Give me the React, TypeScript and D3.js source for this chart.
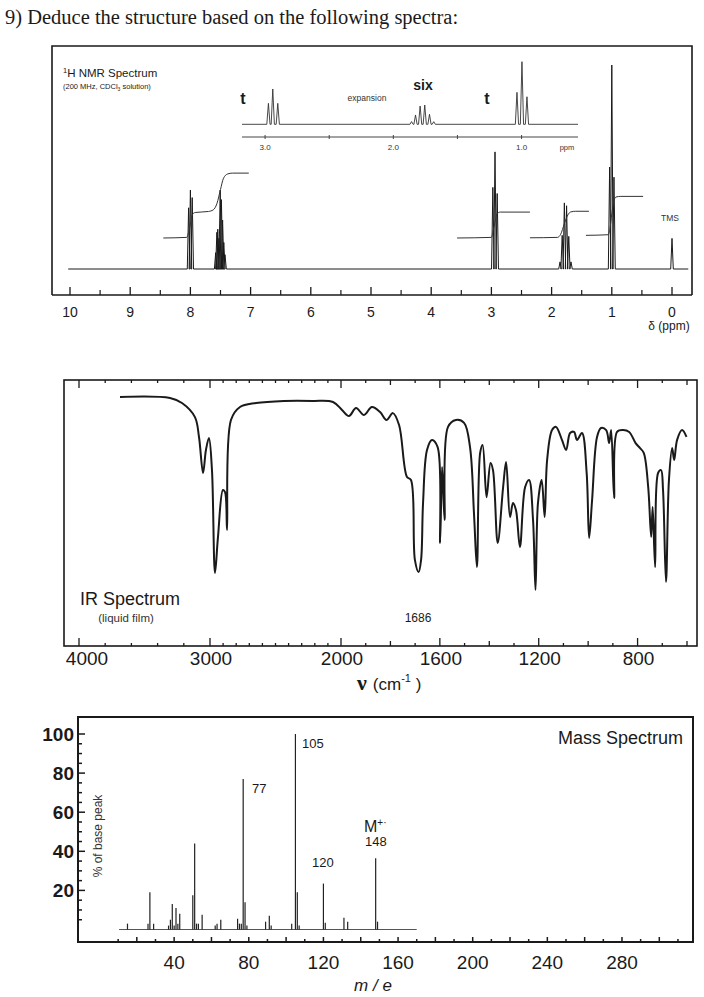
import React from "react";
import * as d3 from "d3";

// ---------------- NMR data ----------------
const nmrAxisTicks = [10, 9, 8, 7, 6, 5, 4, 3, 2, 1, 0];
const nmrPeakPpm = [8.03, 8.0, 7.97, 7.58, 7.56, 7.545, 7.525, 7.505, 7.485, 7.465, 7.445, 7.425, 2.976, 2.94, 2.904, 1.86, 1.824, 1.788, 1.751, 1.715, 1.678, 1.036, 1.0, 0.964, 0.0];
const nmrPeakHeight = [30, 38.7, 35, 8, 18, 19.5, 15, 38.7, 34, 24, 13, 7, 40, 57.4, 37, 3.5, 16.5, 32.4, 31, 16, 3.5, 50, 100, 45, 15];
const integralAromatic: [number, number][] = [[8.45, 15.2], [8.06, 15.5], [8.03, 18], [8.0, 22], [7.97, 26.5], [7.92, 27.7], [7.7, 28.2], [7.62, 29], [7.56, 32], [7.5, 39], [7.45, 44.5], [7.38, 46.6], [7.3, 47], [7.03, 47]];
const integralCH2CO: [number, number][] = [[3.57, 15.2], [3.0, 15.5], [2.97, 19], [2.94, 23], [2.91, 27], [2.85, 27.9], [2.36, 27.9]];
const integralCH2: [number, number][] = [[2.36, 15.3], [1.9, 15.5], [1.85, 17], [1.79, 22], [1.73, 26.5], [1.68, 28], [1.6, 28.3], [1.38, 28.3]];
const integralCH3: [number, number][] = [[1.43, 16.5], [1.06, 16.8], [1.03, 20], [1.0, 27], [0.97, 33], [0.93, 35.3], [0.85, 35.6], [0.48, 35.6]];

// expansion inset
const insetTicks = [3.0, 2.5, 2.0, 1.5, 1.0];
const insetTickLabels = ["3.0", "2.0", "1.0"];
const insetPeakPpm = [2.974, 2.94, 2.901, 1.858, 1.827, 1.791, 1.755, 1.718, 1.685, 1.036, 0.997, 0.958];
const insetPeakHeight = [33.5, 56.4, 33.5, 4.3, 14.9, 29.2, 30.8, 16, 4.2, 51, 100, 44];

// ---------------- IR data ----------------
const irTickLabels = [4000, 3000, 2000, 1600, 1200, 800];
const irMediumTicks = [1800, 1400, 1000, 600];
const irWavenumber = [3687, 3305, 3214, 3115, 3084, 3053, 3031, 3008, 2985, 2962, 2939, 2901, 2885, 2870, 2840, 2771, 2649, 2435, 2214, 2061, 1996, 1968, 1939, 1907, 1875, 1842, 1816, 1790, 1765, 1733, 1717, 1701, 1686, 1676, 1668, 1652, 1632, 1609, 1599, 1591, 1581, 1567, 1535, 1502, 1478, 1462, 1450, 1437, 1427, 1411, 1395, 1385, 1366, 1344, 1332, 1316, 1304, 1292, 1276, 1255, 1239, 1223, 1213, 1203, 1188, 1176, 1166, 1146, 1130, 1106, 1089, 1073, 1057, 1045, 1025, 1006, 996, 984, 964, 948, 927, 915, 907, 895, 883, 859, 834, 808, 790, 775, 757, 745, 739, 729, 717, 705, 697, 685, 673, 660, 652, 640, 620, 602];
const irTransmittance = [93.6, 93.2, 91.3, 86.0, 78.5, 64.9, 73.6, 78.1, 66.0, 27.2, 40.8, 58.5, 57.7, 43.4, 84.9, 89.8, 91.3, 92.1, 92.1, 91.7, 88.7, 86.4, 89.4, 86.8, 89.8, 87.9, 84.9, 87.5, 83.0, 63.4, 62.3, 32.1, 27.5, 32.1, 53.6, 73.6, 77.4, 74.7, 38.5, 67.2, 47.2, 82.3, 84.9, 83.8, 74.7, 49.8, 29.4, 72.5, 75.5, 55.8, 68.7, 66.0, 38.5, 59.6, 69.1, 48.3, 53.6, 50.9, 37.0, 59.6, 62.3, 47.2, 20.8, 53.6, 62.3, 48.3, 69.8, 81.1, 82.3, 77.4, 73.6, 80.0, 80.4, 77.4, 80.0, 64.9, 40.4, 54.7, 78.5, 81.9, 81.1, 76.2, 81.1, 55.5, 80.4, 81.1, 80.4, 76.2, 74.3, 72.5, 59.6, 40.8, 52.1, 29.4, 64.9, 66.0, 58.5, 23.8, 62.3, 74.3, 69.8, 77.4, 81.1, 78.5];

// ---------------- MS data ----------------
const msXTickLabels = [40, 80, 120, 160, 200, 240, 280];
const msYTickLabels = [20, 40, 60, 80, 100];
const msMass = [15, 26, 27, 29, 37, 38, 39, 40, 41, 42, 43, 50, 51, 52, 53, 55, 62, 63, 65, 74, 75, 76, 77, 78, 79, 89, 91, 92, 103, 105, 106, 107, 120, 121, 131, 133, 148, 149];
const msIntensity = [3, 3, 19, 3, 2, 5, 13, 2, 11, 3, 8, 17.5, 44, 3, 3, 7.5, 2, 3, 5, 5.5, 3, 3, 77, 14, 2, 4, 7, 2, 3, 100, 19, 2, 23.5, 3.5, 6, 4, 36.5, 4];

const SANS = "'Liberation Sans', Arial, Helvetica, sans-serif";
const SERIF = "'Liberation Serif', 'Times New Roman', serif";
const INK = "#1a1a1a";

function spikePath(xs: number[], ys: number[], x0: number, x1: number, base: number, hw: number) {
  const idx = xs.map((_, i) => i).sort((a, b) => xs[a] - xs[b]);
  let d = `M${x0},${base}`;
  idx.forEach((i) => {
    d += `L${xs[i] - hw},${base}L${xs[i]},${ys[i]}L${xs[i] + hw},${base}`;
  });
  d += `L${x1},${base}`;
  return d;
}

function NMR() {
  const nx = d3.scaleLinear().domain([10, 0]).range([70, 672]);
  const ny = d3.scaleLinear().domain([0, 100]).range([269, 65]);
  const spec = spikePath(nmrPeakPpm.map(nx), nmrPeakHeight.map(ny), nx(10.03), nx(-0.27), ny(0), 1.3);
  const integ = d3.line<[number, number]>().x((d) => nx(d[0])).y((d) => ny(d[1])).curve(d3.curveMonotoneX);
  const halfTicks = d3.range(9.5, 0, -1);

  const ix = d3.scaleLinear().domain([3.18, 0.56]).range([242, 578]);
  const iy = d3.scaleLinear().domain([0, 100]).range([124.3, 61.7]);
  const inset = spikePath(insetPeakPpm.map(ix), insetPeakHeight.map(iy), ix(3.18), ix(0.56), iy(0), 1.6);
  const axisY = 295;
  return (
    <g>
      <path d="M52,295 L52,46 L692,46 L692,295" fill="none" stroke={INK} strokeWidth={1.6} />
      <line x1={52} x2={692} y1={axisY} y2={axisY} stroke={INK} strokeWidth={1.6} />
      {nmrAxisTicks.map((t) => (
        <g key={t}>
          <line x1={nx(t)} x2={nx(t)} y1={axisY} y2={axisY - 8} stroke={INK} strokeWidth={1.3} />
          <text x={nx(t)} y={317} textAnchor="middle" fontSize={14} fontFamily={SANS} fill={INK}>{t}</text>
        </g>
      ))}
      {halfTicks.map((t) => (
        <line key={t} x1={nx(t)} x2={nx(t)} y1={axisY} y2={axisY - 5} stroke={INK} strokeWidth={1.2} />
      ))}
      <text x={669} y={330} textAnchor="middle" fontSize={12} fontFamily={SANS} fill={INK}>δ (ppm)</text>
      <text x={63} y={77} fontSize={11.5} fontFamily={SANS} fill={INK}>
        <tspan fontSize={7.5} dy={-4}>1</tspan>
        <tspan dy={4}>H NMR Spectrum</tspan>
      </text>
      <text x={63} y={89} fontSize={7.5} fontFamily={SANS} fill={INK}>
        (200 MHz, CDCl<tspan fontSize={5} dy={2}>3</tspan><tspan dy={-2}> solution)</tspan>
      </text>
      <path d={spec} fill="none" stroke={INK} strokeWidth={1} strokeLinejoin="round" />
      {[integralAromatic, integralCH2CO, integralCH2, integralCH3].map((arr, i) => (
        <path key={i} d={integ(arr) || ""} fill="none" stroke="#333" strokeWidth={1} />
      ))}
      <text x={670} y={221} textAnchor="middle" fontSize={8.5} fontFamily={SANS} fill="#333">TMS</text>

      {/* expansion inset */}
      <path d={inset} fill="none" stroke="#333" strokeWidth={0.9} />
      <line x1={ix(3.18)} x2={ix(0.56)} y1={137} y2={137} stroke="#444" strokeWidth={1} />
      {insetTicks.map((t) => (
        <line key={t} x1={ix(t)} x2={ix(t)} y1={135} y2={139} stroke="#444" strokeWidth={1} />
      ))}
      {insetTickLabels.map((t) => (
        <text key={t} x={ix(+t)} y={150} textAnchor="middle" fontSize={8} fontFamily={SANS} fill="#333">{t}</text>
      ))}
      <text x={567} y={150} textAnchor="middle" fontSize={7.5} fontFamily={SANS} fill="#333">ppm</text>
      <text x={367} y={101} textAnchor="middle" fontSize={8.5} fontFamily={SANS} fill="#333">expansion</text>
      <text x={243} y={104} textAnchor="middle" fontSize={16} fontWeight="bold" fontFamily={SANS} fill={INK}>t</text>
      <text x={423} y={90} textAnchor="middle" fontSize={14} fontWeight="bold" fontFamily={SANS} fill={INK}>six</text>
      <text x={487} y={104} textAnchor="middle" fontSize={16} fontWeight="bold" fontFamily={SANS} fill={INK}>t</text>
    </g>
  );
}

function IR() {
  const x = d3.scaleLinear().domain([4000, 2000, 600]).range([79, 341, 687]);
  const y = d3.scaleLinear().domain([0, 100]).range([645, 380]);
  const pts: [number, number][] = irWavenumber.map((w, i) => [w, irTransmittance[i]]);
  const line = d3.line<[number, number]>().x((d) => x(d[0])).y((d) => y(d[1])).curve(d3.curveCatmullRom.alpha(0.5));
  const minor = [...d3.range(3800, 3000, -200), ...d3.range(2900, 2000, -100), ...d3.range(1900, 600, -100)].filter(
    (t) => !irTickLabels.includes(t) && !irMediumTicks.includes(t)
  );
  const top = 380, bottom = 646;
  const ticks = (t: number, len: number, k: string) => (
    <g key={k}>
      <line x1={x(t)} x2={x(t)} y1={bottom} y2={bottom - len} stroke={INK} strokeWidth={1.3} />
      <line x1={x(t)} x2={x(t)} y1={top} y2={top + len} stroke={INK} strokeWidth={1.3} />
    </g>
  );
  return (
    <g>
      <rect x={64} y={top} width={633} height={bottom - top} fill="none" stroke={INK} strokeWidth={1.6} />
      {irTickLabels.map((t) => ticks(t, 8, "M" + t))}
      {irMediumTicks.map((t) => ticks(t, 5, "m" + t))}
      {minor.map((t) => ticks(t, 3, "s" + t))}
      {irTickLabels.map((t, i) => (
        <text key={t} x={x(t) + (i === 0 ? 8 : 1)} y={665} textAnchor="middle" fontSize={19} fontFamily={SANS} fill={INK}>{t}</text>
      ))}
      <path d={line(pts) || ""} fill="none" stroke={INK} strokeWidth={2} strokeLinejoin="round" />
      <text x={80} y={605} fontSize={18} fontFamily={SANS} fill={INK}>IR Spectrum</text>
      <text x={126} y={622} textAnchor="middle" fontSize={11.5} fontFamily={SANS} fill="#333">(liquid film)</text>
      <text x={418} y={622} textAnchor="middle" fontSize={12} fontFamily={SANS} fill={INK}>1686</text>
      <text x={357} y={690} fontFamily={SANS} fill={INK}>
        <tspan fontSize={22} fontWeight="bold" fontFamily={SERIF}>ν</tspan>
        <tspan fontSize={17} dx={6}>(cm</tspan>
        <tspan fontSize={11} dy={-8}>-1</tspan>
        <tspan fontSize={17} dy={8}> )</tspan>
      </text>
    </g>
  );
}

function MS() {
  const x = d3.scaleLinear().domain([0, 300]).range([99.5, 99.5 + 300 * 1.866]);
  const y = d3.scaleLinear().domain([0, 100]).range([929.5, 734]);
  const left = 78, right = 693, top = 717, bottom = 942;
  const yTicks = d3.range(5, 101, 5);
  const xTicks = d3.range(10, 311, 10);
  return (
    <g>
      <rect x={left} y={top} width={right - left} height={bottom - top} fill="none" stroke={INK} strokeWidth={2} />
      {yTicks.map((t) => (
        <line key={t} x1={left} x2={left + (t % 20 === 0 ? 7 : 4)} y1={y(t)} y2={y(t)} stroke={INK} strokeWidth={1.5} />
      ))}
      {msYTickLabels.map((t) => (
        <text key={t} x={74} y={y(t) + 7} textAnchor="end" fontSize={19} fontWeight="bold" fontFamily={SANS} fill={INK}>{t}</text>
      ))}
      {xTicks.map((t) => (
        <line key={t} x1={x(t)} x2={x(t)} y1={bottom} y2={bottom - (t % 20 === 0 ? 5 : 3)} stroke={INK} strokeWidth={1.5} />
      ))}
      {msXTickLabels.map((t) => (
        <text key={t} x={x(t)} y={969} textAnchor="middle" fontSize={19} fontFamily={SANS} fill={INK}>{t}</text>
      ))}
      <line x1={x(10.5)} x2={x(170)} y1={y(0)} y2={y(0)} stroke="#555" strokeWidth={1} />
      {msMass.map((m, i) => (
        <line key={m} x1={x(m)} x2={x(m)} y1={y(0)} y2={y(msIntensity[i])} stroke="#222" strokeWidth={1.2} />
      ))}
      <text x={302} y={748} fontSize={13} fontFamily={SANS} fill={INK}>105</text>
      <text x={252} y={793} fontSize={13} fontFamily={SANS} fill={INK}>77</text>
      <text x={312} y={867} fontSize={13} fontFamily={SANS} fill={INK}>120</text>
      <text x={364} y={832} fontSize={16} fontFamily={SANS} fill={INK}>
        M<tspan fontSize={10} dy={-6}>+·</tspan>
      </text>
      <text x={365} y={846} fontSize={13} fontFamily={SANS} fill={INK}>148</text>
      <text x={683} y={744} textAnchor="end" fontSize={18} fontFamily={SANS} fill={INK}>Mass Spectrum</text>
      <text transform="translate(102,836) rotate(-90)" textAnchor="middle" fontSize={12} fontFamily={SANS} fill="#333">% of base peak</text>
      <text x={373} y={991} textAnchor="middle" fontSize={17} fontStyle="italic" fontFamily={SANS} fill={INK}>m / e</text>
    </g>
  );
}

export default function App() {
  return (
    <svg width={704} height={997} viewBox="0 0 704 997" style={{ position: "absolute", left: 0, top: 0, background: "#fff" }}>
      <rect width={704} height={997} fill="#fff" />
      <text x={5} y={24} fontSize={20.5} fontFamily={SERIF} fill={INK}>9) Deduce the structure based on the following spectra:</text>
      <NMR />
      <IR />
      <MS />
    </svg>
  );
}
